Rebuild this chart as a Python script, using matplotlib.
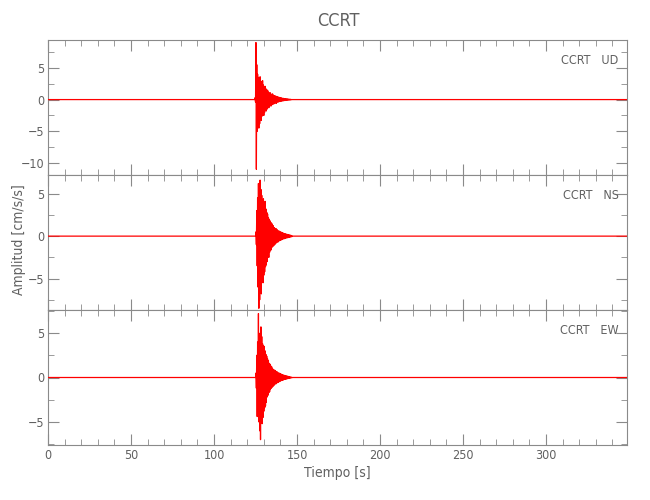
import matplotlib
matplotlib.use("Agg")
import matplotlib.pyplot as plt
from matplotlib.ticker import MultipleLocator

plt.rcParams['font.family'] = ['DejaVu Sans']
plt.rcParams['font.stretch'] = 'condensed'

station = "CCRT"
components = ["UD", "NS", "EW"]
t_end = 349.0
dt = 0.25

# burst start time (s) for each component, samples every dt
burst_start = {"UD": 124.5, "NS": 125.0, "EW": 125.0}

# amplitudes (cm/s/s)
burst_ud = [0.0, 0.3, -0.4, 9.0, -11.0, 5.5, -5.0, 4.0, -3.0,
            3.5, -4.5, 3.2, -3.8, 3.6, -2.8, 2.9, -3.3,
            2.5, -2.6, 3.0, -2.2, 2.3, -2.5, 1.9, -2.0,
            2.1, -1.6, 1.7, -1.8, 1.4, -1.5, 1.5, -1.2,
            1.2, -1.3, 1.0, -1.1, 1.1, -0.9, 0.9, -1.0,
            0.8, -0.8, 0.9, -0.7, 0.7, -0.7, 0.6, -0.6,
            0.6, -0.5, 0.5, -0.6, 0.5, -0.4, 0.4, -0.4,
            0.4, -0.35, 0.35, -0.3, 0.3, -0.3, 0.28, -0.25,
            0.25, -0.22, 0.2, -0.2, 0.2, -0.18, 0.16, -0.15,
            0.15, -0.14, 0.12, -0.12, 0.1, -0.1, 0.1, -0.08,
            0.08, -0.07, 0.06, -0.06, 0.05, -0.05, 0.04, -0.03, 0.0]

burst_ns = [0.0, 0.5, -1.0, 3.0, -3.5, 4.5, -6.0, 6.2, -8.5,
            5.0, -7.5, 6.6, -6.0, 5.5, -6.8, 4.8, -5.2,
            4.2, -5.5, 4.4, -4.6, 3.8, -4.2, 4.1, -3.6,
            3.2, -3.4, 2.8, -3.0, 2.6, -2.4, 2.2, -2.5,
            2.0, -1.9, 1.8, -1.7, 1.6, -1.6, 1.5, -1.3,
            1.3, -1.2, 1.2, -1.1, 1.0, -1.0, 0.9, -0.9,
            0.9, -0.8, 0.8, -0.7, 0.7, -0.7, 0.6, -0.6,
            0.6, -0.5, 0.5, -0.5, 0.5, -0.45, 0.4, -0.4,
            0.4, -0.35, 0.35, -0.3, 0.3, -0.3, 0.28, -0.25,
            0.25, -0.22, 0.22, -0.2, 0.2, -0.18, 0.16, -0.15,
            0.15, -0.12, 0.12, -0.1, 0.1, -0.08, 0.06, -0.05, 0.0]

burst_ew = [0.0, 0.5, -1.2, 2.5, -4.4, 4.0, -3.5, 7.2, -5.0,
            4.5, -6.0, 5.0, -7.0, 5.7, -4.8, 4.6, -5.2,
            3.8, -4.5, 3.6, -3.8, 3.5, -3.4, 3.0, -3.2,
            2.6, -2.8, 2.4, -2.2, 2.1, -2.0, 1.9, -1.7,
            1.6, -1.6, 1.5, -1.3, 1.3, -1.2, 1.2, -1.1,
            1.0, -1.0, 0.9, -0.9, 0.85, -0.8, 0.8, -0.7,
            0.7, -0.7, 0.65, -0.6, 0.6, -0.55, 0.5, -0.5,
            0.5, -0.45, 0.45, -0.4, 0.4, -0.35, 0.35, -0.3,
            0.3, -0.3, 0.28, -0.25, 0.25, -0.22, 0.22, -0.2,
            0.2, -0.18, 0.16, -0.15, 0.15, -0.12, 0.12, -0.1,
            0.1, -0.08, 0.07, -0.06, 0.05, -0.04, 0.03, -0.02, 0.0]

bursts = {"UD": burst_ud, "NS": burst_ns, "EW": burst_ew}
ylims = {"UD": (-11.9, 9.4), "NS": (-8.7, 7.2), "EW": (-7.6, 7.6)}

gray = "#8a8a8a"
text_gray = "#606060"

fig = plt.figure(figsize=(6.5, 5), dpi=100)
gs = fig.add_gridspec(3, 1, left=0.074, right=0.965, bottom=0.11, top=0.92, hspace=0)

axes = []
for i, comp in enumerate(components):
    ax = fig.add_subplot(gs[i], sharex=axes[0] if axes else None)
    vals = bursts[comp]
    t0 = burst_start[comp]
    t = [0.0] + [t0 + dt * k for k in range(len(vals))] + [t_end]
    y = [0.0] + vals + [0.0]
    ax.plot(t, y, color="red", lw=0.9, zorder=3)
    ax.set_xlim(0, t_end)
    ax.set_ylim(*ylims[comp])
    ax.xaxis.set_major_locator(MultipleLocator(50))
    ax.xaxis.set_minor_locator(MultipleLocator(10))
    ax.yaxis.set_major_locator(MultipleLocator(5))
    ax.yaxis.set_minor_locator(MultipleLocator(2.5))
    ax.tick_params(which="both", direction="in", top=True, right=True,
                   color=gray, labelcolor=text_gray, labelsize=9, pad=3)
    ax.tick_params(which="major", length=8)
    ax.tick_params(which="minor", length=4)
    for s in ax.spines.values():
        s.set_color(gray)
        s.set_linewidth(0.8)
    if i < 2:
        ax.tick_params(labelbottom=False)
    ax.text(0.985, 0.85, f"{station}   {comp}", transform=ax.transAxes,
            ha="right", va="center", fontsize=9, color=text_gray)
    axes.append(ax)

axes[-1].set_xlabel("Tiempo [s]", fontsize=10, color=text_gray, labelpad=3)
fig.text(0.03, 0.52, "Amplitud [cm/s/s]", rotation=90, ha="center", va="center",
         fontsize=10, color=text_gray)
fig.suptitle(station, x=0.52, y=0.975, fontsize=13, color=text_gray)

plt.savefig("out.png", dpi=100)
